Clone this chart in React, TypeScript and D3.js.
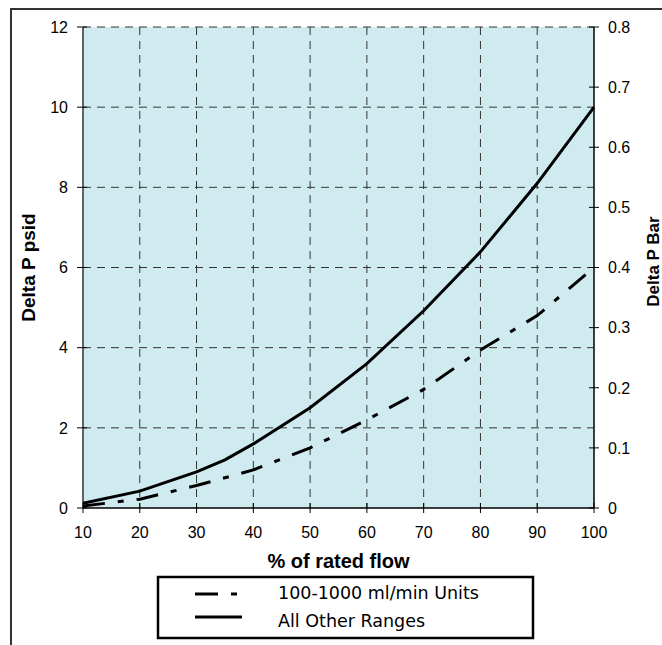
import React from "react";
import * as d3 from "d3";

const flowSolid = [10, 20, 30, 35, 40, 50, 60, 70, 80, 90, 100];
const psidSolid = [0.12, 0.42, 0.9, 1.2, 1.6, 2.5, 3.6, 4.92, 6.39, 8.1, 10];
const flowDash = [10, 20, 30, 40, 50, 60, 70, 80, 90, 100];
const psidDash = [0.05, 0.22, 0.56, 0.95, 1.5, 2.2, 2.96, 3.94, 4.8, 6.0];
const xTicks = [10, 20, 30, 40, 50, 60, 70, 80, 90, 100];
const yTicks = [0, 2, 4, 6, 8, 10, 12];
const barTicks = [0, 0.1, 0.2, 0.3, 0.4, 0.5, 0.6, 0.7, 0.8];
const legendLabels = ["100-1000 ml/min Units", "All Other Ranges"];

const L = 83, R = 594, T = 27, B = 508;
const arial = "'Liberation Sans', Arial, sans-serif";
const verdana = "'DejaVu Sans', Verdana, sans-serif";

export default function App() {
  const x = d3.scaleLinear().domain([10, 100]).range([L, R]);
  const y = d3.scaleLinear().domain([0, 12]).range([B, T]);
  const yb = d3.scaleLinear().domain([0, 0.8]).range([B, T]);
  const line = d3
    .line<[number, number]>()
    .x((d) => x(d[0]))
    .y((d) => y(d[1]));
  const solid = line(flowSolid.map((f, i) => [f, psidSolid[i]]));
  const dash = line(flowDash.map((f, i) => [f, psidDash[i]]));
  const dashPattern = "22,13,6,13";
  return (
    <svg
      width={662}
      height={645}
      style={{ position: "absolute", left: 0, top: 0, background: "#fff" }}
    >
      <rect x={11} y={9} width={700} height={700} fill="none" stroke="#333" strokeWidth={2} />
      <rect x={L} y={T} width={R - L} height={B - T} fill="#cfebef" />
      {/* grid */}
      {yTicks.filter((t) => t > 0).map((t) => (
        <line key={"gy" + t} x1={L} x2={R} y1={y(t)} y2={y(t)} stroke="#333" strokeWidth={1} strokeDasharray="8,6" />
      ))}
      {xTicks.filter((t) => t > 10 && t < 100).map((t) => (
        <line key={"gx" + t} x1={x(t)} x2={x(t)} y1={T} y2={B} stroke="#333" strokeWidth={1} strokeDasharray="8,6" />
      ))}
      {/* axes */}
      <line x1={L} x2={L} y1={T} y2={B} stroke="#333" strokeWidth={1.5} />
      <line x1={R} x2={R} y1={T} y2={B} stroke="#000" strokeWidth={1.5} />
      <line x1={L} x2={R} y1={B} y2={B} stroke="#000" strokeWidth={1.5} />
      {yTicks.map((t) => (
        <g key={"ly" + t}>
          <line x1={L - 6} x2={L + 4} y1={y(t)} y2={y(t)} stroke="#000" strokeWidth={1} />
          <text x={68} y={y(t)} dy="0.36em" textAnchor="end" fontFamily={arial} fontSize={16}>
            {t}
          </text>
        </g>
      ))}
      {barTicks.map((t) => (
        <g key={"ry" + t}>
          <line x1={R - 5} x2={R + 5} y1={yb(t)} y2={yb(t)} stroke="#000" strokeWidth={1} />
          <text x={608} y={yb(t)} dy="0.36em" textAnchor="start" fontFamily={arial} fontSize={16}>
            {t === 0 ? "0" : t.toFixed(1)}
          </text>
        </g>
      ))}
      {xTicks.map((t) => (
        <g key={"tx" + t}>
          <line x1={x(t)} x2={x(t)} y1={B - 5} y2={B + 5} stroke="#000" strokeWidth={1} />
          <text x={x(t)} y={538} textAnchor="middle" fontFamily={arial} fontSize={16}>
            {t}
          </text>
        </g>
      ))}
      {/* series */}
      <path d={dash || ""} fill="none" stroke="#000" strokeWidth={3} strokeDasharray={dashPattern} />
      <path d={solid || ""} fill="none" stroke="#000" strokeWidth={3} />
      {/* titles */}
      <text x={(L + R) / 2} y={568} textAnchor="middle" fontFamily={arial} fontWeight="bold" fontSize={20}>
        % of rated flow
      </text>
      <text
        transform={`translate(35,${(T + B) / 2}) rotate(-90)`}
        textAnchor="middle"
        fontFamily={arial}
        fontWeight="bold"
        fontSize={19}
      >
        Delta P psid
      </text>
      <text
        transform={`translate(659,${(T + B) / 2 - 6}) rotate(-90)`}
        textAnchor="middle"
        fontFamily={arial}
        fontWeight="bold"
        fontSize={17}
      >
        Delta P Bar
      </text>
      {/* legend */}
      <rect x={158} y={577} width={375} height={61} fill="#fff" stroke="#000" strokeWidth={2.5} />
      <line x1={195} x2={242} y1={594} y2={594} stroke="#000" strokeWidth={3} strokeDasharray="23,13,6,40" />
      <line x1={195} x2={242} y1={617} y2={617} stroke="#000" strokeWidth={3} />
      <text x={278} y={599} fontFamily={verdana} fontSize={17.5}>
        {legendLabels[0]}
      </text>
      <text x={278} y={627} fontFamily={verdana} fontSize={17.5}>
        {legendLabels[1]}
      </text>
    </svg>
  );
}
